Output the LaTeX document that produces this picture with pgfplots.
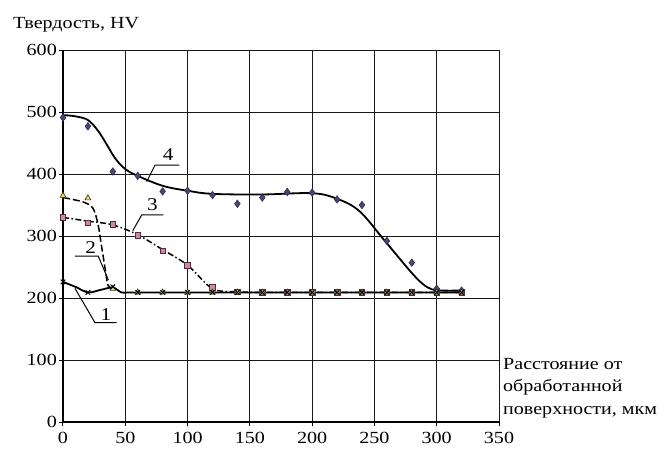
\documentclass[border=0pt]{standalone}
\usepackage{pgfplots}
\pgfplotsset{compat=1.18}
\usepackage{fontspec}
\setmainfont{Liberation Serif}[FakeStretch=1.18]
\definecolor{diamfill}{RGB}{70,70,122}
\definecolor{sqfill}{RGB}{212,132,170}
\definecolor{trifill}{RGB}{238,218,92}
\definecolor{gridc}{RGB}{25,25,25}
\begin{document}
\fontsize{17}{20}\selectfont
\begin{tikzpicture}
\useasboundingbox (-63pt,-29pt) rectangle (604pt,422pt);
\begin{axis}[at={(0pt,0pt)}, anchor=south west,
    scale only axis, width=436pt, height=372pt,
    xmin=0, xmax=350, ymin=0, ymax=600,
    xtick={0,50,...,350}, ytick={0,100,...,600},
    grid=major, grid style={line width=0.9pt, gridc},
    axis lines=left, axis line style={-, line width=2pt},
    tick align=outside, major tick length=4pt,
    tick style={line width=1pt, black},
    /pgf/number format/assume math mode=true,
    ticklabel style={font=\fontsize{17}{20}\selectfont},
    yticklabel style={inner sep=2pt},
    xticklabel style={inner sep=6pt},
    clip=false]

    % 4: trend line and points
    \addplot[black, line width=1.8pt, smooth, tension=0.6, no marks] coordinates {
        (0,495) (10,493) (20,487) (28,470) (35,448) (42,425) (50,408) (60,397)
        (80,381) (100,373) (120,368) (160,367) (200,369) (220,360)
        (238,340) (258,293) (278,245) (288,224) (296,214) (305,212) (320,212)
    };
    \addplot[only marks, mark=diamond*, mark size=3.8pt,
        mark options={fill=diamfill, draw=diamfill!60!black, line width=0.5pt}] coordinates {
        (0,491) (20,477) (40,404) (60,397) (80,372) (100,373) (120,366)
        (140,352) (160,362) (180,371) (200,370) (220,359) (240,350)
        (260,292) (280,257) (300,215) (320,212)
    };

    % 3
    \addplot[black, line width=1.5pt, dash pattern=on 6pt off 2.5pt on 1.5pt off 2.5pt, smooth, no marks] coordinates {
        (0,330) (20,324) (40,318) (60,302) (80,278) (100,253) (120,215)
        (140,210) (160,209) (200,209) (240,209) (280,209) (320,209)
    };
    \addplot[only marks, mark=square*, mark size=2.8pt,
        mark options={fill=sqfill, draw=sqfill!35!black, line width=0.6pt}] coordinates {
        (0,330) (20,321) (40,319) (60,301) (80,276) (100,253) (120,217)
        (140,210) (160,209) (180,209) (200,209) (220,209) (240,209)
        (260,209) (280,209) (300,209) (320,209)
    };

    % 2
    \addplot[black, line width=1.5pt, dash pattern=on 7pt off 3pt, smooth, no marks] coordinates {
        (0,362) (16,355) (24,345) (28,320) (31,283) (34,245) (36,221) (39,215)
    };
    \addplot[only marks, mark=triangle*, mark size=3.4pt,
        mark options={fill=trifill, draw=black!80, line width=0.6pt}] coordinates {
        (0,365) (20,361) (40,215) (60,209) (80,209) (100,209) (120,209)
        (140,209) (160,209) (180,209) (200,209) (220,209) (240,209)
        (260,209) (280,209) (300,209) (320,209)
    };

    % 1
    \addplot[black, line width=1.8pt, smooth, no marks] coordinates {
        (0,226) (10,218) (20,209) (30,213) (40,217) (47,209) (55,209)
        (100,209) (200,209) (320,209)
    };
    \addplot[only marks, mark=x, mark size=3.2pt, mark options={black, line width=1pt}] coordinates {
        (0,226) (20,209) (40,218) (60,209) (80,209) (100,209) (120,209)
        (140,209) (160,209) (180,209) (200,209) (220,209) (240,209)
        (260,209) (280,209) (300,209) (320,209)
    };

    % leader lines and curve numbers
    \draw[line width=1pt] (axis cs:67.2,387.6) -- (axis cs:73.9,414.5) -- (axis cs:93.4,414.5);
    \node[font=\fontsize{18}{20}\selectfont] at (axis cs:84.5,431) {4};
    \draw[line width=1pt] (axis cs:56,308.5) -- (axis cs:63.2,333.9) -- (axis cs:80.5,333.9);
    \node[font=\fontsize{18}{20}\selectfont] at (axis cs:71.7,351) {3};
    \draw[line width=1pt] (axis cs:9.6,267.7) -- (axis cs:28.3,267.7) -- (axis cs:36.4,229);
    \node[font=\fontsize{18}{20}\selectfont] at (axis cs:22.2,281.5) {2};
    \draw[line width=1pt] (axis cs:9.6,215.6) -- (axis cs:25.7,160.2) -- (axis cs:43.1,160.2);
    \node[font=\fontsize{18}{20}\selectfont] at (axis cs:34.5,173.6) {1};
\end{axis}
\node[anchor=base west, inner sep=0] at (-50pt,393pt) {Твердость, HV};
\node[anchor=north west, inner sep=0, align=left, font=\fontsize{17}{22.5}\selectfont]
    at (440pt,64pt) {Расстояние от\\обработанной\\поверхности, мкм};
\end{tikzpicture}
\end{document}
